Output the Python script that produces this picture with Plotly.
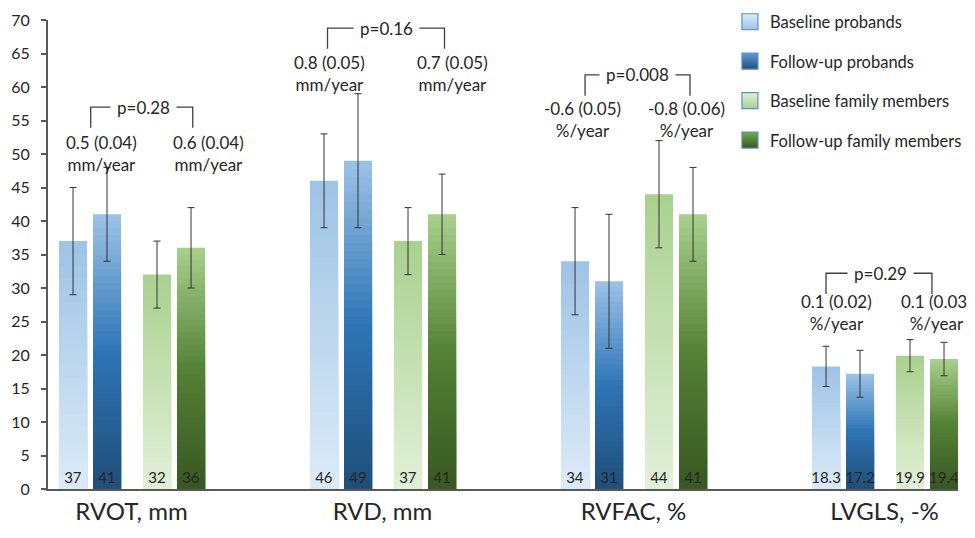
import plotly.graph_objects as go

# ---------------- data ----------------
categories = ["RVOT, mm", "RVD, mm", "RVFAC, %", "LVGLS, -%"]
series_names = ["Baseline probands", "Follow-up probands",
                "Baseline family members", "Follow-up family members"]

baseline_probands = [37, 46, 34, 18.3]
followup_probands = [41, 49, 31, 17.2]
baseline_family = [32, 37, 44, 19.9]
followup_family = [36, 41, 41, 19.4]

err_baseline_probands = [8, 7, 8, 3.0]
err_followup_probands = [7, 10, 10, 3.5]
err_baseline_family = [5, 5, 8, 2.4]
err_followup_family = [6, 6, 7, 2.5]

p_values = ["p=0.28", "p=0.16", "p=0.008", "p=0.29"]
rate_probands = ["0.5 (0.04)<br>mm/year", "0.8 (0.05)<br>mm/year",
                 "-0.6 (0.05)<br>%/year", "0.1 (0.02)<br>%/year"]
rate_family = ["0.6 (0.04)<br>mm/year", "0.7 (0.05)<br>mm/year",
               "-0.8 (0.06)<br>%/year", "0.1 (0.03)<br>%/year"]

# ---------------- styles / layout positions ----------------
FONT = "Lato"
TXT = "#262626"
AXC = "#595959"
PAGE_PAD = 8  # default body margin of the html page

series_values = [baseline_probands, followup_probands, baseline_family, followup_family]
series_errors = [err_baseline_probands, err_followup_probands, err_baseline_family, err_followup_family]
bar_offsets = [-0.2888, -0.1534, 0.0458, 0.1813]
bar_width = 0.1116
# gradient stops: (fraction of bar height from bottom, colour)
gradients = [
    [(0.0, "#DDEBF7"), (1.0, "#9DC3E6")],
    [(0.0, "#1F4E79"), (0.5, "#2E75B6"), (1.0, "#9DC3E6")],
    [(0.0, "#E2F0D9"), (1.0, "#A9D18E")],
    [(0.0, "#385723"), (0.5, "#548235"), (1.0, "#A9D18E")],
]
N_SEG = 40

bracket_top = [57.0, 68.8, 61.8, 32.2]
bracket_drop = 3.1
bracket_left = [-0.1625, -0.2191, -0.193, -0.233]
bracket_right = [0.244, 0.247, 0.225, 0.189]
p_x = [0.046, 0.014, 0.014, -0.014]
rate_left_x = [-0.1215, -0.211, -0.205, -0.193]
rate_right_x = [0.305, 0.279, 0.213, 0.207]
rate_y = [50.1, 62.0, 55.1, 26.3]


def hex2rgb(h):
    h = h.lstrip("#")
    return tuple(int(h[i:i + 2], 16) for i in (0, 2, 4))


def interp(stops, t):
    for (t0, c0), (t1, c1) in zip(stops[:-1], stops[1:]):
        if t0 <= t <= t1:
            a = (t - t0) / (t1 - t0) if t1 > t0 else 0
            r0, r1 = hex2rgb(c0), hex2rgb(c1)
            return "rgb(%d,%d,%d)" % tuple(round(r0[i] + (r1[i] - r0[i]) * a) for i in range(3))
    return stops[-1][1]


fig = go.Figure()
xs = list(range(len(categories)))

for s, (vals, errs) in enumerate(zip(series_values, series_errors)):
    # gradient fill, built from overlapping bars (tallest/top colour first)
    for k in range(N_SEG):
        frac = (N_SEG - k) / N_SEG
        col = interp(gradients[s], (N_SEG - k - 0.5) / N_SEG)
        fig.add_trace(go.Bar(
            x=xs, y=[v * frac for v in vals], offset=bar_offsets[s], width=bar_width,
            marker=dict(color=col, line=dict(width=0)),
            showlegend=False, hoverinfo="skip"))

for s, (vals, errs) in enumerate(zip(series_values, series_errors)):
    # transparent top layer: value labels + error bars
    fig.add_trace(go.Bar(
        x=xs, y=vals, offset=bar_offsets[s], width=bar_width,
        marker=dict(color="rgba(0,0,0,0)", line=dict(width=0)),
        text=["%g" % v for v in vals], textposition="inside", insidetextanchor="start",
        constraintext="none", textangle=0,
        insidetextfont=dict(family=FONT, size=15, color=TXT),
        error_y=dict(type="data", array=errs, visible=True, color="#333333",
                     thickness=1, width=3.5),
        showlegend=False, name=series_names[s]))

# legend entries
legend_colors = [("#9DC3E6", "#DDEBF7"), ("#1F4E79", "#5B9BD5"),
                 ("#A9D18E", "#E2F0D9"), ("#385723", "#70AD47")]
for s in range(4):
    fig.add_trace(go.Scatter(
        x=[None], y=[None], mode="markers", name=series_names[s],
        legendgroup=str(s),
        marker=dict(symbol="square", size=16, color=legend_colors[s][1],
                    gradient=dict(type="vertical", color=legend_colors[s][0]),
                    line=dict(color="#5B8FC9", width=1.2))))

shapes = []
annotations = []
for i in range(len(categories)):
    l = i + bracket_left[i]
    r = i + bracket_right[i]
    t = bracket_top[i]
    b = t - bracket_drop
    shapes.append(dict(type="path", xref="x", yref="y",
                       path=f"M {l},{b} L {l},{t} L {r},{t} L {r},{b}",
                       line=dict(color="#404040", width=1.3)))
    annotations.append(dict(x=i + p_x[i], y=t, xref="x", yref="y", text=p_values[i],
                            showarrow=False, bgcolor="white", borderpad=6,
                            font=dict(family=FONT, size=17, color=TXT)))
    annotations.append(dict(x=i + rate_left_x[i], y=rate_y[i], xref="x", yref="y",
                            text=rate_probands[i], showarrow=False,
                            font=dict(family=FONT, size=17, color=TXT)))
    annotations.append(dict(x=i + rate_right_x[i], y=rate_y[i], xref="x", yref="y",
                            text=rate_family[i], showarrow=False,
                            font=dict(family=FONT, size=17, color=TXT)))

fig.update_layout(
    width=975 - PAGE_PAD, height=538 - PAGE_PAD,
    margin=dict(l=48 - PAGE_PAD, r=17, t=20 - PAGE_PAD, b=49, autoexpand=False),
    barmode="overlay",
    plot_bgcolor="white", paper_bgcolor="white",
    font=dict(family=FONT, color=TXT),
    shapes=shapes, annotations=annotations,
    legend=dict(x=0.7494, y=1.033, xanchor="left", yanchor="top",
                font=dict(family=FONT, size=16.5, color=TXT),
                tracegroupgap=15, bgcolor="rgba(0,0,0,0)"),
    xaxis=dict(range=[-0.3327, 3.2928], tickmode="array", tickvals=xs, ticktext=categories,
               showline=True, linecolor=AXC, linewidth=2, ticks="", showgrid=False,
               zeroline=False, automargin=False,
               tickfont=dict(family=FONT, size=24, color=TXT)),
    yaxis=dict(range=[0, 70], dtick=5, tick0=0, showline=True, linecolor=AXC, linewidth=2,
               ticks="outside", ticklen=5, tickwidth=1.5, tickcolor=AXC, showgrid=False,
               zeroline=False, automargin=False, ticklabelstandoff=8,
               tickfont=dict(family=FONT, size=16, color=TXT)),
)

fig.write_html("out.html")
